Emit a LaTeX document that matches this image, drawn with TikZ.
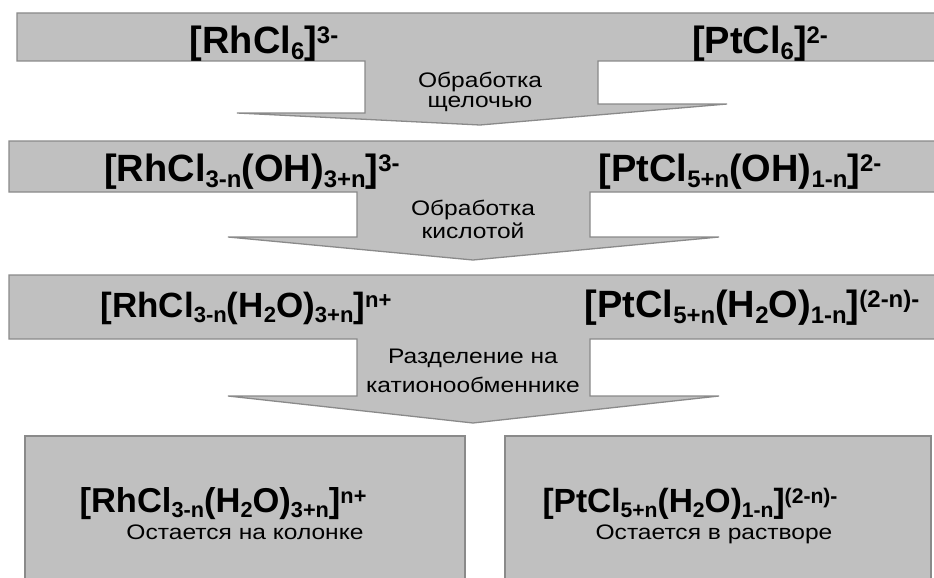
\documentclass[tikz,border=0pt]{standalone}
\usepackage{fontspec}
\setmainfont{Liberation Sans}
\newfontfamily\widefont[FakeStretch=1.17]{Liberation Sans}
\definecolor{boxfill}{HTML}{C0C0C0}
\definecolor{boxline}{HTML}{8A8A8A}
\newdimen\mainsz \newdimen\subsz
\newcommand\setfs[1]{\mainsz=#1pt\relax\subsz=0.63\mainsz\fontsize{\the\mainsz}{\the\mainsz}\selectfont\bfseries}
\newcommand\lo[1]{\raisebox{-0.17\mainsz}{\fontsize{\the\subsz}{\the\subsz}\selectfont #1}}
\newcommand\hi[1]{\raisebox{0.26\mainsz}{\fontsize{\the\subsz}{\the\subsz}\selectfont #1}}
\begin{document}
\begin{tikzpicture}[x=1pt,y=-1pt,
  arrowshape/.style={fill=boxfill, draw=boxline, line width=1.3pt, line join=miter},
  formula/.style={anchor=base, inner sep=0pt, font=\setfs{#1}},
  formula/.default=38,
  steptext/.style={anchor=base, inner sep=0pt, font=\widefont\fontsize{21}{23}\selectfont, align=center},
]
\useasboundingbox (0,0) rectangle (934,578);
\begin{scope}
\clip (0,0) rectangle (934,578);
% stage 1
\draw[arrowshape] (17,13) -- (940,13) -- (940,61) -- (598,61) -- (598,104) -- (727,104)
  -- (480,125) -- (237,113) -- (365,113) -- (365,61) -- (17,61) -- cycle;
% stage 2
\draw[arrowshape] (9,141) -- (940,141) -- (940,192) -- (590,192) -- (590,237) -- (719,237)
  -- (473,260) -- (228,237) -- (357,237) -- (357,192) -- (9,192) -- cycle;
% stage 3
\draw[arrowshape] (9,275) -- (940,275) -- (940,339) -- (590,339) -- (590,396) -- (719,396)
  -- (473,423) -- (228,396) -- (357,396) -- (357,339) -- (9,339) -- cycle;
% result boxes
\draw[arrowshape] (25,436) rectangle (465,590);
\draw[arrowshape] (505,436) rectangle (931,590);
\end{scope}

\node[formula] (rh1) at (264,53) {[RhCl\lo{6}]\hi{3-}};
\node[formula] (pt1) at (760,53) {[PtCl\lo{6}]\hi{2-}};
\node[steptext] (s1a) at (480,87) {Обработка};
\node[steptext] (s1b) at (480,107) {щелочью};

\node[formula] (rh2) at (252,181) {[RhCl\lo{3-n}(OH)\lo{3+n}]\hi{3-}};
\node[formula] (pt2) at (740,181) {[PtCl\lo{5+n}(OH)\lo{1-n}]\hi{2-}};
\node[steptext] (s2a) at (473,215) {Обработка};
\node[steptext] (s2b) at (473,238) {кислотой};

\node[formula=35] (rh3) at (246,317) {[RhCl\lo{3-n}(H\lo{2}O)\lo{3+n}]\hi{n+}};
\node[formula] (pt3) at (752,317) {[PtCl\lo{5+n}(H\lo{2}O)\lo{1-n}]\hi{(2-n)-}};
\node[steptext] (s3a) at (473,363) {Разделение на};
\node[steptext] (s3b) at (473,392) {катионообменнике};

\node[formula=34.5] (rh4) at (223,512) {[RhCl\lo{3-n}(H\lo{2}O)\lo{3+n}]\hi{n+}};
\node[steptext] (rh4s) at (245,539) {Остается на колонке};
\node[formula=33.5] (pt4) at (690,512) {[PtCl\lo{5+n}(H\lo{2}O)\lo{1-n}]\hi{(2-n)-}};
\node[steptext] (pt4s) at (714,539) {Остается в растворе};
\end{tikzpicture}
\end{document}
